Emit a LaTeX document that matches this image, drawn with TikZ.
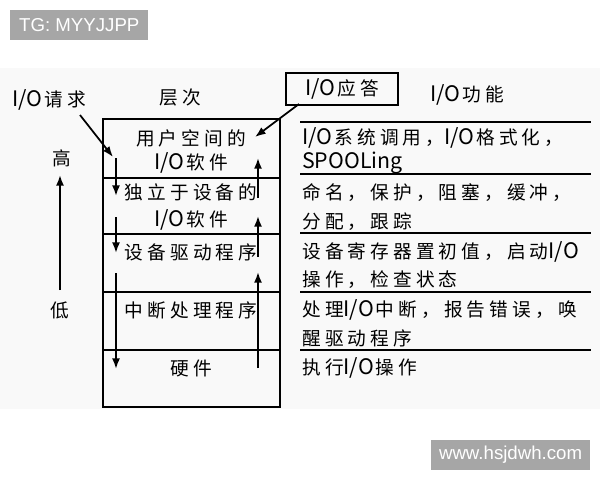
\documentclass[tikz,border=0pt]{standalone}
\usepackage{fontspec}
\newfontfamily\cjk[LetterSpace=22]{Noto Sans CJK SC}
\newfontfamily\lat{Noto Sans CJK SC}
\newfontfamily\wm{Liberation Sans}
\usetikzlibrary{arrows.meta,positioning}
\newcommand\latin[1]{{\lat\fontsize{16}{20}\selectfont #1}}
\newcommand\io{\latin{I/O}\hspace{1.5pt}}

\tikzset{
  txt/.style = {font=\cjk\fontsize{14}{20}\selectfont, inner sep=0pt},
  func/.style = {txt, anchor=west},
  arr/.style = {-{Latex[length=8pt,width=6pt]}, line width=1.3pt},
  wmark/.style = {fill=black!35, text=white, font=\wm\fontsize{14}{14}\selectfont,
                  inner sep=0pt, minimum height=22pt, anchor=north west}
}

\begin{document}
\begin{tikzpicture}[x=0.75pt, y=-0.75pt]
\useasboundingbox (0,0) rectangle (600,480);
\fill[black!2.5] (0,68) rectangle (600,409);

% watermarks
\node[wmark, minimum width=103.5pt] (tg) at (10,10) {TG: MYYJJPP};
\node[wmark, minimum width=119pt] (web) at (431,440) {www.hsjdwh.com};

% the layer box
\draw[line width=1pt] (103,119) rectangle (280,407);
\foreach \y in {178,234,292,350}
  \draw[line width=1pt] (103,\y) -- (280,\y);
\foreach \y in {122,174,233,292,350}
  \draw[line width=1pt] (300,\y) -- (591,\y);

% headings
\node[txt] (level) at (180,97) {层次};
\node[txt] (func) at (467,95) {\io 功能};
\node[txt] (req) at (49,100) {\io 请求};
\node[txt, draw, line width=1pt, minimum width=84pt, minimum height=24pt] (ans) at (342,89) {\io 应答};
\node[txt] (high) at (62,158) {高};
\node[txt] (low) at (60,310) {低};

% layers
\node[txt] (l1a) at (191,138) {用户空间的};
\node[txt] (l1b) at (191,163) {\io 软件};
\node[txt] (l2a) at (191,192) {独立于设备的};
\node[txt] (l2b) at (191,220) {\io 软件};
\node[txt] (l3) at (191,252) {设备驱动程序};
\node[txt] (l4) at (191,310) {中断处理程序};
\node[txt] (l5) at (191,368) {硬件};

% functions
\node[func] (f1a) at (302,138) {\io 系统调用，\io 格式化，};
\node[func] (f1b) at (302,163) {\latin{SPOOLing}};
\node[func] (f2a) at (302,193) {命名，保护，阻塞，缓冲，};
\node[func] (f2b) at (302,222) {分配，跟踪};
\node[func] (f3a) at (302,252) {设备寄存器置初值，启动\io};
\node[func] (f3b) at (302,280) {操作，检查状态};
\node[func] (f4a) at (302,310) {处理\io 中断，报告错误，唤};
\node[func] (f4b) at (302,338) {醒驱动程序};
\node[func] (f5) at (302,368) {执行\io 操作};

% arrow ends
\coordinate (rq0) at (80,115);  \coordinate (rq1) at (113,157);
\coordinate (an0) at (299,104); \coordinate (an1) at (255,137);
\coordinate (hl0) at (60,290);  \coordinate (hl1) at (60,175);
\coordinate (d1) at (116,158); \coordinate (d1e) at (116,196);
\coordinate (d2) at (116,217); \coordinate (d2e) at (116,253);
\coordinate (d3) at (116,273); \coordinate (d3e) at (116,369);
\coordinate (u1) at (258,368); \coordinate (u1e) at (258,272);
\coordinate (u2) at (258,257); \coordinate (u2e) at (258,216);
\coordinate (u3) at (258,198); \coordinate (u3e) at (258,158);

\draw[arr] (rq0) -- (rq1);
\draw[arr] (an0) -- (an1);
\draw[arr] (hl0) -- (hl1);
\foreach \a in {d1,d2,d3,u1,u2,u3}
  \draw[arr] (\a) -- (\a e);
\end{tikzpicture}
\end{document}
